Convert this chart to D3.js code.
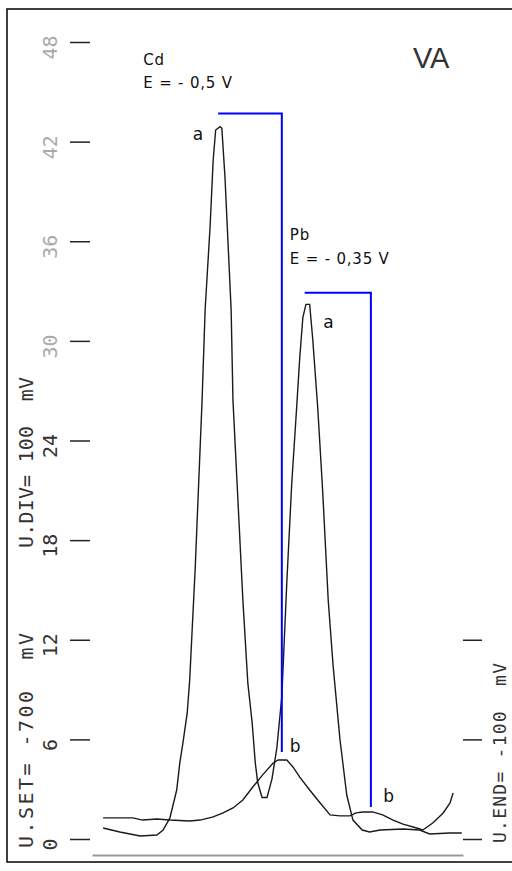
<!DOCTYPE html>
<html>
<head>
<meta charset="utf-8">
<script src="https://cdn.jsdelivr.net/npm/d3@7"></script>
<style>
  body { margin: 0; background: #fff; }
  text { white-space: pre; }
</style>
</head>
<body>
<div id="chart"></div>
<script>
// potential in mV, current in scale units
const potA = [-682,-655,-622,-595,-585,-574,-563,-558,-553,-546,-542,-533,-522,-517,-509,-504,-500,-493,-490,-485,-480,-475,-472,-464,-456,-448,-441,-436,-432,-425,-417,-409,-401,-393,-385,-377,-369,-364,-359,-354,-348,-343,-335,-327,-318,-310,-299,-288,-278,-263,-251,-234,-197,-170,-154,-121,-102];
const curA = [0.66,0.42,0.18,0.24,0.54,1.27,2.95,4.58,5.78,7.59,9.58,16.4,26.4,31.9,36.9,40.9,42.7,42.9,42.8,39.9,35.9,31.9,26.4,20.4,14.4,9.4,7.0,4.6,3.4,2.5,2.5,3.6,5.5,8.6,15.4,21.4,26.0,29.0,31.4,32.2,32.2,30.1,26.0,21.0,14.4,10.4,6.0,2.65,1.14,0.54,0.42,0.54,0.60,0.54,0.30,0.36,0.36];

const potB = [-682,-634,-618,-595,-574,-542,-525,-504,-488,-472,-456,-440,-424,-407,-399,-385,-375,-364,-348,-331,-315,-299,-283,-273,-262,-246,-230,-213,-197,-175,-165,-149,-132,-121,-116];
const curB = [1.27,1.27,1.14,1.20,1.14,1.08,1.14,1.33,1.57,1.87,2.35,3.13,3.86,4.58,4.76,4.76,4.34,3.73,2.95,2.17,1.45,1.39,1.39,1.57,1.63,1.63,1.45,1.14,0.90,0.66,0.54,0.96,1.57,2.17,2.77];

// peak height markers: a-peak level down to b-peak
const cdMark = [[-496,43.7],[-393,43.7],[-393,5.24]];
const pbMark = [[-356,32.9],[-249,32.9],[-249,1.93]];

const leftTicks = [0,6,12,18,24,30,36,42,48];
const rightTicks = [0,6,12];

const peakLabels = [
    {t:"a", E:-537, v:42.1},
    {t:"a", E:-326, v:30.8},
    {t:"b", E:-380, v:5.24},
    {t:"b", E:-229, v:2.23}
];
const notes = [
    {t:"Cd", E:-617, v:46.6},
    {t:"E = - 0,5 V", E:-617, v:45.2},
    {t:"Pb", E:-380, v:36.1},
    {t:"E = - 0,35 V", E:-380, v:34.6}
];

const width = 512, height = 871;

let svg = d3.select("#chart").append("svg")
            .attr("width",width)
            .attr("height",height);

svg.append("rect")
    .attr("x",7).attr("y",9)
    .attr("width",530).attr("height",853)
    .attr("fill","white")
    .attr("stroke","black")
    .attr("stroke-width",1.5);

let xScale = d3.scaleLinear()
                .domain([-700,-100])
                .range([92,463]);

let yScale = d3.scaleLinear()
                .domain([0,48])
                .range([839,42]);

//#region axes
let leftAxis = d3.axisLeft(yScale)
                .tickValues(leftTicks)
                .tickSize(20)
                .tickSizeOuter(0);

let gl = svg.append("g").call(leftAxis)
            .attr("transform","translate(90,0)");
gl.select(".domain").remove();
gl.selectAll("line").attr("stroke","#222").attr("stroke-width",1.5);
gl.selectAll("text")
    .attr("x",null).attr("dy",null)
    .attr("transform","translate(-33,5) rotate(-90)")
    .attr("text-anchor","middle")
    .attr("font-family","DejaVu Sans Mono")
    .attr("font-size",20)
    .attr("fill",function(d){ return d >= 30 ? "#aaa" : "#333"; });

let rightAxis = d3.axisRight(yScale)
                .tickValues(rightTicks)
                .tickSize(19)
                .tickFormat("");

let gr = svg.append("g").call(rightAxis)
            .attr("transform","translate(463,0)");
gr.select(".domain").remove();
gr.selectAll("line").attr("stroke","#222").attr("stroke-width",1.5);

let bottomAxis = d3.axisBottom(xScale)
                .tickValues([])
                .tickSizeOuter(0);

let gb = svg.append("g").call(bottomAxis)
            .attr("transform","translate(0," + (yScale(0) + 16) + ")");
gb.select(".domain").attr("stroke","#999").attr("stroke-width",2);
//#endregion

// side captions
function sideText(txt,x,yBottom,len,size){
    svg.append("text")
        .attr("transform","translate(" + x + "," + yBottom + ") rotate(-90)")
        .attr("font-family","DejaVu Sans Mono")
        .attr("font-size",size)
        .attr("fill","#333")
        .attr("textLength",len)
        .attr("lengthAdjust","spacing")
        .text(txt);
}
sideText("U.DIV= 100  mV",33,548,171,20);
sideText("U.SET= -700  mV",33,848,215,20);
sideText("U.END= -100  mV",506,843,180,18);

//#region traces
let line = d3.line()
            .x(d => xScale(d[0]))
            .y(d => yScale(d[1]));

svg.append("path")
    .attr("d",line(potA.map((p,i) => [p,curA[i]])))
    .attr("fill","none")
    .attr("stroke","#1a1a1a")
    .attr("stroke-width",1.4);

svg.append("path")
    .attr("d",line(potB.map((p,i) => [p,curB[i]])))
    .attr("fill","none")
    .attr("stroke","#1a1a1a")
    .attr("stroke-width",1.4);

[cdMark,pbMark].forEach(m => {
    svg.append("path")
        .attr("d",line(m))
        .attr("fill","none")
        .attr("stroke","#0000ff")
        .attr("stroke-width",2);
});
//#endregion

//#region labels
svg.selectAll("text.peak")
    .data(peakLabels)
    .join("text")
    .attr("class","peak")
    .attr("x",d => xScale(d.E))
    .attr("y",d => yScale(d.v))
    .attr("font-family","DejaVu Sans")
    .attr("font-size",17)
    .attr("fill","#111")
    .text(d => d.t);

svg.selectAll("text.note")
    .data(notes)
    .join("text")
    .attr("class","note")
    .attr("x",d => xScale(d.E))
    .attr("y",d => yScale(d.v))
    .attr("font-family","DejaVu Sans")
    .attr("font-size",15)
    .attr("letter-spacing",0.8)
    .attr("fill","#111")
    .text(d => d.t);

svg.append("text")
    .attr("x",xScale(-181))
    .attr("y",yScale(46.45))
    .attr("font-family","Liberation Sans")
    .attr("font-size",29)
    .attr("fill","#333")
    .text("VA");
//#endregion
</script>
</body>
</html>
